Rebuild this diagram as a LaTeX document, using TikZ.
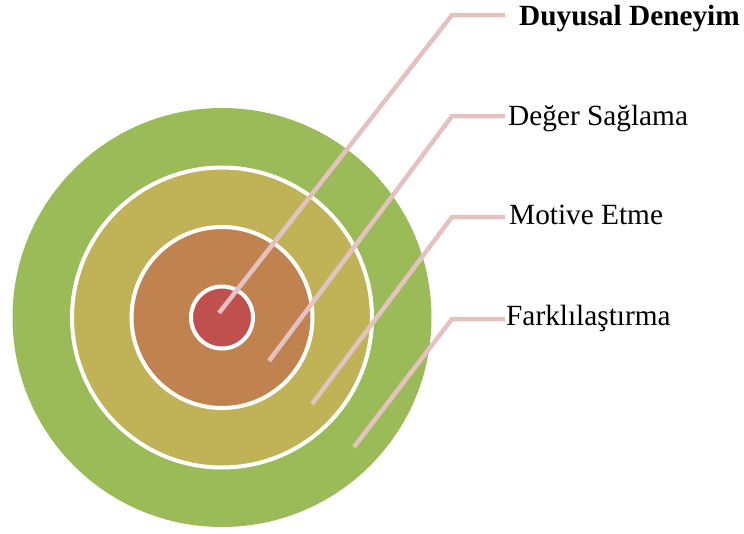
\documentclass[tikz,border=0pt]{standalone}
\usepackage{fontspec}
\setmainfont{Liberation Serif}
\definecolor{ringA}{RGB}{155,187,89}
\definecolor{ringB}{RGB}{192,179,87}
\definecolor{ringC}{RGB}{192,131,80}
\definecolor{ringD}{RGB}{192,80,77}
\definecolor{leader}{RGB}{229,194,194}
\begin{document}
\begin{tikzpicture}[x=1pt,y=-1pt,
  ring/.style={circle,inner sep=0pt,draw=white,line width=4pt},
  leaderline/.style={draw=leader,line width=4.5pt},
  lbl/.style={anchor=base west,inner sep=0pt,font=\fontsize{29.3}{34}\selectfont}]
\useasboundingbox (0,0) rectangle (744,533);
\coordinate (c) at (222,317.5);
% concentric rings
\node[ring,fill=ringA,draw=none,minimum size=419pt] (r1) at (c) {};
\node[ring,fill=ringB,minimum size=300pt] (r2) at (c) {};
\node[ring,fill=ringC,minimum size=181pt] (r3) at (c) {};
\node[ring,fill=ringD,minimum size=62pt] (r4) at (c) {};
% leader line anchors
\coordinate (s1) at (219,313); \coordinate (b1) at (452,15);  \coordinate (e1) at (505,15);
\coordinate (s2) at (269,361); \coordinate (b2) at (452,116); \coordinate (e2) at (505,116);
\coordinate (s3) at (312,404); \coordinate (b3) at (452,217); \coordinate (e3) at (505,217);
\coordinate (s4) at (354,447); \coordinate (b4) at (452,319); \coordinate (e4) at (505,319);
\draw[leaderline] (s1) -- (b1) -- (e1);
\draw[leaderline] (s2) -- (b2) -- (e2);
\draw[leaderline] (s3) -- (b3) -- (e3);
\draw[leaderline] (s4) -- (b4) -- (e4);
% labels
\node[lbl,font=\fontsize{29.3}{34}\selectfont\bfseries] (t1) at (519,25) {Duyusal Deneyim};
\node[lbl] (t2) at (508,125) {Değer Sağlama};
\node[lbl] (t3) at (509,224) {Motive Etme};
\node[lbl] (t4) at (506,325) {Farklılaştırma};
\end{tikzpicture}
\end{document}
